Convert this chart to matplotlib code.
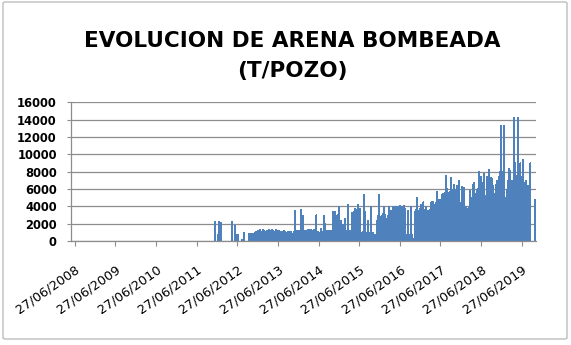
import matplotlib
matplotlib.use('Agg')
import matplotlib.pyplot as plt
import matplotlib.transforms as mtransforms
import pandas as pd
from matplotlib.patches import FancyBboxPatch

# Sand pumped per well (t), one entry every 9 days
values = [
    0, 0, 2200, 0, 0, 800, 2200, 0, 2100, 0,
    0, 0, 0, 0, 0, 0, 0, 0, 0, 2200,
    0, 0, 1800, 600, 700, 800, 0, 0, 0, 200,
    0, 1000, 0, 0, 0, 0, 900, 800, 900, 200,
    900, 800, 1000, 1100, 900, 1200, 1000, 1300, 1100, 800,
    1300, 1200, 1100, 700, 1200, 900, 1300, 1000, 1200, 1300,
    1200, 1000, 1100, 1300, 1200, 900, 1200, 1100, 1000, 1100,
    1000, 1200, 1100, 1000, 900, 1100, 1100, 1000, 1100, 900,
    0, 1100, 3500, 1100, 1200, 1000, 1200, 1100, 3600, 1200,
    2900, 1100, 1200, 1100, 1200, 1300, 1300, 1200, 1300, 1200,
    1100, 1300, 1000, 3000, 1000, 1100, 900, 1000, 1500, 1000,
    1100, 2900, 2000, 1100, 1200, 1100, 1200, 1100, 1200, 1100,
    3400, 2000, 3400, 1200, 3000, 1100, 4000, 1200, 2400, 1100,
    1900, 1200, 2600, 1100, 1200, 4200, 1200, 1100, 1200, 3300,
    1100, 3400, 3800, 3200, 3600, 4200, 3400, 3800, 1000, 1000,
    1100, 5400, 3400, 1000, 1000, 2400, 1000, 1000, 4000, 1000,
    1000, 800, 700, 700, 2400, 3000, 5400, 2700, 2800, 3000,
    3200, 4000, 3000, 2600, 1000, 3000, 4000, 1000, 3500, 1100,
    4000, 1000, 4000, 1000, 4000, 3800, 4000, 4100, 3800, 4000,
    4000, 4100, 3800, 600, 700, 3500, 700, 800, 4000, 700,
    200, 300,
    3400, 3600, 5000, 3500, 3300, 3700, 4200, 3600, 4500, 3500,
    3600, 4000, 3500, 3400, 3500, 3600, 4400, 4600, 4500, 3800,
    4200, 4500, 5700, 4700, 4800, 4500, 4800, 5400, 5500, 5500,
    5600, 7500, 6100, 1000, 5600, 5700, 7300, 4000, 6000, 6500,
    5000, 6000, 6400, 6000, 7000, 3400, 4500, 6300, 5000, 6200,
    1000, 4000, 3500, 3800, 4000, 5800, 5000, 5000, 6500, 6700,
    4000, 5500, 6000, 6000, 8000, 5000, 7400, 3500, 6700, 7800,
    5300, 4500, 7400, 7000, 8200, 1000, 7300, 7200, 6400, 5500,
    5000, 6500, 7000, 6000, 7400, 8000, 13300, 8000, 6000, 13300,
    5000, 1000, 6000, 7000, 8400, 8100, 7000, 6000, 7000, 14300,
    9000, 7500, 5000, 14300, 8600, 9000, 2000, 7500, 9400, 6500,
    6800, 7000, 500, 6400, 300, 9000, 0, 0, 0, 0,
    4800,
]
start_date = '2011-11-21'
step = '9D'
tick_years = list(range(2008, 2020))
y_ticks = list(range(0, 16001, 2000))
title_line1 = 'EVOLUCION DE ARENA BOMBEADA'
title_line2 = '(T/POZO)'

dates = pd.date_range(start_date, periods=len(values), freq=step)
tick_dates = pd.to_datetime([f'{y}-06-27' for y in tick_years])
tick_labels = [d.strftime('%d/%m/%Y') for d in tick_dates]

W, H = 571, 345
fig = plt.figure(figsize=(W / 100, H / 100), dpi=100)
fig.patch.set_facecolor('white')

# chart border
border = FancyBboxPatch((3 / W, 6 / H), 564 / W, 337 / H,
                        boxstyle='round,pad=0,rounding_size=0.004',
                        transform=fig.transFigure, facecolor='none',
                        edgecolor='#bdbdbd', linewidth=1.0)
fig.patches.append(border)

ax = fig.add_axes([70.7 / W, 1 - 241 / H, (536 - 70.7) / W, (241 - 102.3) / H])
bars = ax.bar(dates, values, width=9, color='#4F81BD', linewidth=0, zorder=2)
for b in bars:
    b.set_snap(False)
    b.set_antialiased(False)
ax.set_xlim(pd.Timestamp('2008-05-21'), pd.Timestamp('2019-11-03'))
ax.set_ylim(0, 16000)

ax.set_yticks(y_ticks)
ax.set_yticklabels([str(v) for v in y_ticks], fontweight='bold', fontsize=8.3,
                   family='DejaVu Sans')
ax.yaxis.grid(True, color='#8c8c8c', linewidth=0.9)
ax.set_axisbelow(True)

ax.set_xticks(tick_dates)
ax.set_xticklabels(tick_labels, rotation=35, ha='right', va='top',
                   rotation_mode='anchor', fontsize=9.3, family='DejaVu Sans')
shift = mtransforms.ScaledTranslation(-3 / 100, -3 / 100, fig.dpi_scale_trans)
for lbl in ax.get_xticklabels():
    lbl.set_transform(lbl.get_transform() + shift)

for s in ['top', 'right']:
    ax.spines[s].set_visible(False)
for s in ['left', 'bottom']:
    ax.spines[s].set_color('#8c8c8c')
    ax.spines[s].set_linewidth(0.9)
ax.tick_params(axis='y', length=3, color='#8c8c8c', pad=7)
ax.tick_params(axis='x', length=3.5, color='#8c8c8c', pad=12)

fig.text(292 / W, 1 - 47 / H, title_line1, ha='center', va='baseline',
         fontsize=15.5, fontweight='bold', family='DejaVu Sans')
fig.text(292 / W, 1 - 77 / H, title_line2, ha='center', va='baseline',
         fontsize=15.5, fontweight='bold', family='DejaVu Sans')

fig.savefig('out.png', dpi=100)
